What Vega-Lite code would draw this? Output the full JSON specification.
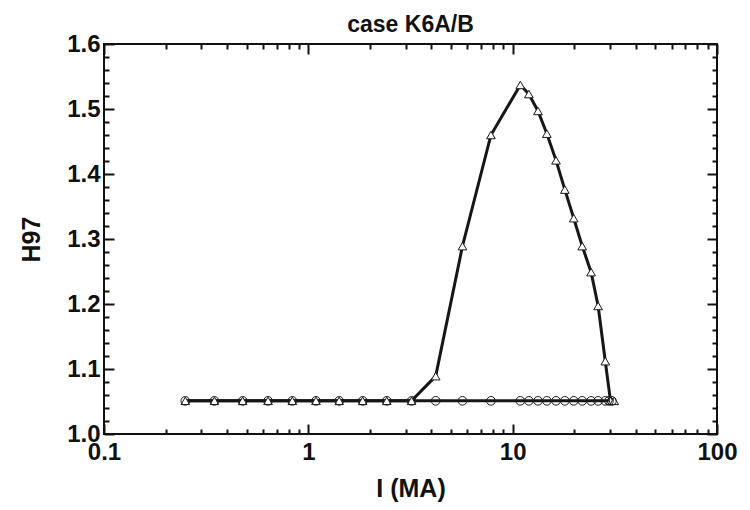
{
  "$schema": "https://vega.github.io/schema/vega-lite/v6.json",
  "width": 613,
  "height": 390,
  "autosize": "none",
  "padding": {"left": 104, "top": 44, "right": 33, "bottom": 76},
  "background": "white",
  "config": {
    "view": {"stroke": "#111", "strokeWidth": 2},
    "font": "Liberation Sans",
    "axis": {
      "labelFont": "Liberation Sans",
      "labelFontWeight": "bold",
      "labelFontSize": 24,
      "labelColor": "#111",
      "titleFont": "Liberation Sans",
      "titleFontWeight": "bold",
      "titleFontSize": 25,
      "titleColor": "#111",
      "tickColor": "#111",
      "tickWidth": 2,
      "domain": false,
      "grid": false
    }
  },
  "title": {
    "text": "case K6A/B",
    "font": "Liberation Sans",
    "fontWeight": "bold",
    "fontSize": 23,
    "color": "#111",
    "anchor": "middle",
    "offset": -5
  },
  "data": {
    "values": [
      {"s": "tri", "I": 0.25, "H": 1.051},
      {"s": "tri", "I": 0.347, "H": 1.051},
      {"s": "tri", "I": 0.477, "H": 1.051},
      {"s": "tri", "I": 0.635, "H": 1.051},
      {"s": "tri", "I": 0.835, "H": 1.051},
      {"s": "tri", "I": 1.09, "H": 1.051},
      {"s": "tri", "I": 1.416, "H": 1.051},
      {"s": "tri", "I": 1.845, "H": 1.051},
      {"s": "tri", "I": 2.42, "H": 1.051},
      {"s": "tri", "I": 3.2, "H": 1.051},
      {"s": "tri", "I": 4.2, "H": 1.089},
      {"s": "tri", "I": 5.68, "H": 1.289},
      {"s": "tri", "I": 7.83, "H": 1.46},
      {"s": "tri", "I": 10.9, "H": 1.537},
      {"s": "tri", "I": 12.0, "H": 1.523},
      {"s": "tri", "I": 13.3, "H": 1.497},
      {"s": "tri", "I": 14.7, "H": 1.462},
      {"s": "tri", "I": 16.3, "H": 1.421},
      {"s": "tri", "I": 18.0, "H": 1.376},
      {"s": "tri", "I": 19.9, "H": 1.332},
      {"s": "tri", "I": 21.9, "H": 1.289},
      {"s": "tri", "I": 24.2, "H": 1.249},
      {"s": "tri", "I": 26.2, "H": 1.197},
      {"s": "tri", "I": 28.4, "H": 1.112},
      {"s": "tri", "I": 30.1, "H": 1.051},
      {"s": "tri", "I": 31.4, "H": 1.051},
      {"s": "circ", "I": 0.25, "H": 1.051},
      {"s": "circ", "I": 0.347, "H": 1.051},
      {"s": "circ", "I": 0.477, "H": 1.051},
      {"s": "circ", "I": 0.635, "H": 1.051},
      {"s": "circ", "I": 0.835, "H": 1.051},
      {"s": "circ", "I": 1.09, "H": 1.051},
      {"s": "circ", "I": 1.416, "H": 1.051},
      {"s": "circ", "I": 1.845, "H": 1.051},
      {"s": "circ", "I": 2.42, "H": 1.051},
      {"s": "circ", "I": 3.2, "H": 1.051},
      {"s": "circ", "I": 4.2, "H": 1.051},
      {"s": "circ", "I": 5.68, "H": 1.051},
      {"s": "circ", "I": 7.83, "H": 1.051},
      {"s": "circ", "I": 10.9, "H": 1.051},
      {"s": "circ", "I": 12.0, "H": 1.051},
      {"s": "circ", "I": 13.3, "H": 1.051},
      {"s": "circ", "I": 14.7, "H": 1.051},
      {"s": "circ", "I": 16.3, "H": 1.051},
      {"s": "circ", "I": 18.0, "H": 1.051},
      {"s": "circ", "I": 19.9, "H": 1.051},
      {"s": "circ", "I": 21.9, "H": 1.051},
      {"s": "circ", "I": 24.2, "H": 1.051},
      {"s": "circ", "I": 26.2, "H": 1.051},
      {"s": "circ", "I": 28.4, "H": 1.051},
      {"s": "circ", "I": 29.6, "H": 1.051},
      {"s": "circ", "I": 30.6, "H": 1.051}
    ]
  },
  "resolve": {"axis": {"x": "independent", "y": "independent"}},
  "layer": [
    {
      "mark": {"type": "line", "color": "#161616", "strokeWidth": 3},
      "encoding": {
        "x": {
          "field": "I", "type": "quantitative",
          "scale": {"type": "log", "domain": [0.1, 100], "nice": false},
          "axis": {
            "orient": "bottom",
            "title": "I (MA)",
            "titlePadding": 7,
            "values": [0.1,0.2,0.3,0.4,0.5,0.6,0.7,0.8,0.9,1,2,3,4,5,6,7,8,9,10,20,30,40,50,60,70,80,90,100],
            "labelExpr": "(datum.value==0.1||datum.value==1||datum.value==10||datum.value==100) ? datum.label : ''",
            "format": "~g",
            "labelOverlap": false,
            "labelFlush": false,
            "labelPadding": 16,
            "tickSize": {"condition": {"test": "datum.value==0.1||datum.value==1||datum.value==10||datum.value==100", "value": -10}, "value": -5}
          }
        },
        "y": {
          "field": "H", "type": "quantitative",
          "scale": {"domain": [1.0, 1.6], "nice": false, "zero": false},
          "axis": {
            "orient": "left",
            "title": "H97",
            "titlePadding": 22,
            "values": [1.0,1.02,1.04,1.06,1.08,1.1,1.12,1.14,1.16,1.18,1.2,1.22,1.24,1.26,1.28,1.3,1.32,1.34,1.36,1.38,1.4,1.42,1.44,1.46,1.48,1.5,1.52,1.54,1.56,1.58,1.6],
            "format": ".1f",
            "labelExpr": "abs(datum.value*10 - round(datum.value*10)) < 0.001 ? datum.label : ''",
            "labelOverlap": false,
            "labelFlush": false,
            "labelPadding": 14,
            "tickSize": {"condition": {"test": "abs(datum.value*10 - round(datum.value*10)) < 0.001", "value": -10}, "value": -5}
          }
        },
        "detail": {"field": "s"}
      }
    },
    {
      "mark": {"type": "point", "filled": false, "stroke": "#1a1a1a", "strokeWidth": 1, "size": 75, "opacity": 1},
      "encoding": {
        "x": {
          "field": "I", "type": "quantitative",
          "axis": {
            "orient": "top",
            "title": null,
            "labels": false,
            "values": [0.1,0.2,0.3,0.4,0.5,0.6,0.7,0.8,0.9,1,2,3,4,5,6,7,8,9,10,20,30,40,50,60,70,80,90,100],
            "tickSize": {"condition": {"test": "datum.value==0.1||datum.value==1||datum.value==10||datum.value==100", "value": -10}, "value": -5}
          }
        },
        "y": {
          "field": "H", "type": "quantitative",
          "axis": {
            "orient": "right",
            "title": null,
            "labels": false,
            "values": [1.0,1.02,1.04,1.06,1.08,1.1,1.12,1.14,1.16,1.18,1.2,1.22,1.24,1.26,1.28,1.3,1.32,1.34,1.36,1.38,1.4,1.42,1.44,1.46,1.48,1.5,1.52,1.54,1.56,1.58,1.6],
            "tickSize": {"condition": {"test": "abs(datum.value*10 - round(datum.value*10)) < 0.001", "value": -10}, "value": -5}
          }
        },
        "shape": {
          "field": "s", "type": "nominal",
          "scale": {"domain": ["circ", "tri"], "range": ["circle", "triangle-up"]},
          "legend": null
        },
        "fill": {
          "field": "s", "type": "nominal",
          "scale": {"domain": ["circ", "tri"], "range": ["transparent", "white"]},
          "legend": null
        }
      }
    }
  ]
}
